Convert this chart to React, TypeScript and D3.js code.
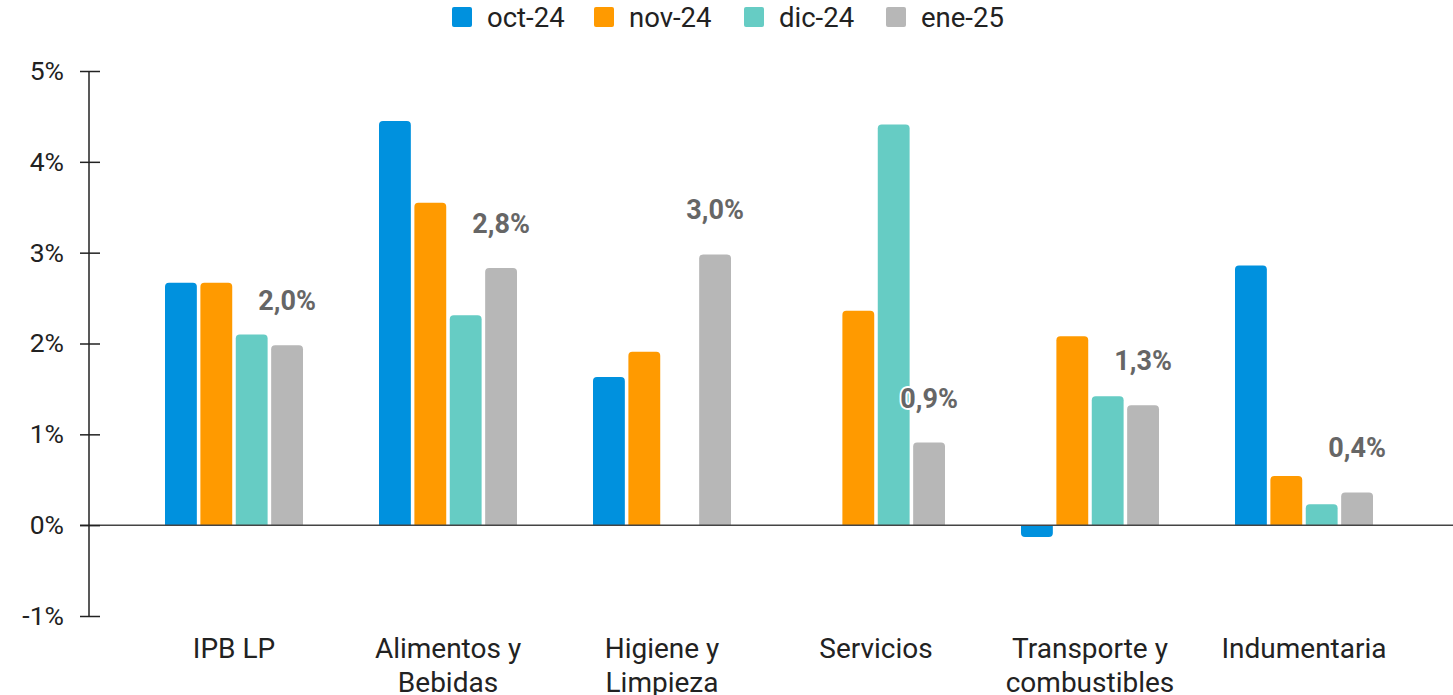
import React, { useEffect, useRef } from "react";
import * as d3 from "d3";

const width = 1453;
const height = 695;

const categories = [
  ["IPB LP"],
  ["Alimentos y", "Bebidas"],
  ["Higiene y", "Limpieza"],
  ["Servicios"],
  ["Transporte y", "combustibles"],
  ["Indumentaria"],
];
const seriesNames = ["oct-24", "nov-24", "dic-24", "ene-25"];
const colors = ["#0091DE", "#FF9A00", "#66CCC4", "#B7B7B7"];

// valores en %, null = sin barra
const oct24 = [2.67, 4.45, 1.63, null, -0.13, 2.86];
const nov24 = [2.67, 3.55, 1.91, 2.36, 2.08, 0.54];
const dic24 = [2.1, 2.31, null, 4.41, 1.42, 0.23];
const ene25 = [1.98, 2.83, 2.98, 0.91, 1.32, 0.36];
const yTicks = [-1, 0, 1, 2, 3, 4, 5];

const series = [oct24, nov24, dic24, ene25];
const font = "Roboto, 'Noto Sans', sans-serif";

// Rechteck mit abgerundeten Ecken nur an der Spitze
function barPath(x: number, w: number, y0: number, y1: number, r: number) {
  const up = y1 < y0;
  const h = Math.abs(y1 - y0);
  r = Math.min(r, h);
  if (up) {
    return `M${x},${y0}V${y1 + r}Q${x},${y1} ${x + r},${y1}H${x + w - r}Q${x + w},${y1} ${x + w},${y1 + r}V${y0}Z`;
  }
  return `M${x},${y0}V${y1 - r}Q${x},${y1} ${x + r},${y1}H${x + w - r}Q${x + w},${y1} ${x + w},${y1 - r}V${y0}Z`;
}

export default function App() {
  const axisRef = useRef<SVGGElement>(null);

  const y = d3.scaleLinear().domain([-1, 5]).range([616, 71]);
  const x0 = d3.scaleBand<number>().domain(d3.range(categories.length)).range([127, 1411]);
  const groupW = 138;
  const x1 = d3.scaleBand<number>().domain(d3.range(seriesNames.length)).range([0, groupW]).paddingInner(0.1);
  const groupOffset = (x0.bandwidth() - groupW) / 2;

  useEffect(() => {
    const axis = d3.axisLeft(y)
      .tickValues(yTicks)
      .tickSize(20)
      .tickPadding(16)
      .tickFormat((d) => d + "%");
    const g = d3.select(axisRef.current!);
    g.call(axis);
    g.select(".domain").remove();
    g.selectAll(".tick line").attr("stroke", "#222").attr("stroke-width", 1.5);
    g.selectAll(".tick text")
      .attr("fill", "#222")
      .style("font-family", font)
      .style("font-size", "26.5px");
  }, []);

  const legendX = [452, 594, 744, 886];

  return (
    <div style={{ position: "absolute", left: 0, top: 0 }}>
      <svg width={width} height={height} style={{ display: "block", background: "#fff" }}>
        {/* Legende */}
        {seriesNames.map((s, i) => (
          <g key={s} transform={`translate(${legendX[i]},0)`}>
            <rect x={0} y={7} width={20} height={20} rx={2} fill={colors[i]} />
            <text x={35} y={17} dy="0.35em" fontFamily={font} fontSize={27.5} fill="#222">
              {s}
            </text>
          </g>
        ))}

        {/* Balken */}
        {categories.map((c, ci) => (
          <g key={ci} transform={`translate(${x0(ci)! + groupOffset},0)`}>
            {series.map((vals, si) => {
              const v = vals[ci];
              if (v === null) return null;
              return (
                <path
                  key={si}
                  d={barPath(x1(si)!, x1.bandwidth(), y(0), y(v), 4)}
                  fill={colors[si]}
                />
              );
            })}
          </g>
        ))}

        {/* Nulllinie und Achse */}
        <line x1={80} x2={width} y1={y(0)} y2={y(0)} stroke="#444" strokeWidth={1.5} />
        <line x1={89} x2={89} y1={y(5)} y2={y(-1)} stroke="#222" strokeWidth={1.5} />
        <g ref={axisRef} transform="translate(100,0)" />

        {/* Beschriftungen ene-25 */}
        {ene25.map((v, ci) => (
          <text
            key={ci}
            x={x0(ci)! + groupOffset + x1(3)! + x1.bandwidth() / 2}
            y={y(v) - 35}
            textAnchor="middle"
            fontFamily={font}
            fontSize={27}
            fontWeight="bold"
            fill="#666"
            stroke="#fff"
            strokeWidth={4}
            paintOrder="stroke"
          >
            {d3.format(".1f")(v).replace(".", ",") + "%"}
          </text>
        ))}

        {/* Kategorien */}
        {categories.map((lines, ci) => (
          <text
            key={ci}
            x={x0(ci)! + x0.bandwidth() / 2}
            y={658}
            textAnchor="middle"
            fontFamily={font}
            fontSize={28}
            fill="#222"
          >
            {lines.map((l, li) => (
              <tspan key={li} x={x0(ci)! + x0.bandwidth() / 2} dy={li === 0 ? 0 : 34}>
                {l}
              </tspan>
            ))}
          </text>
        ))}
      </svg>
    </div>
  );
}
